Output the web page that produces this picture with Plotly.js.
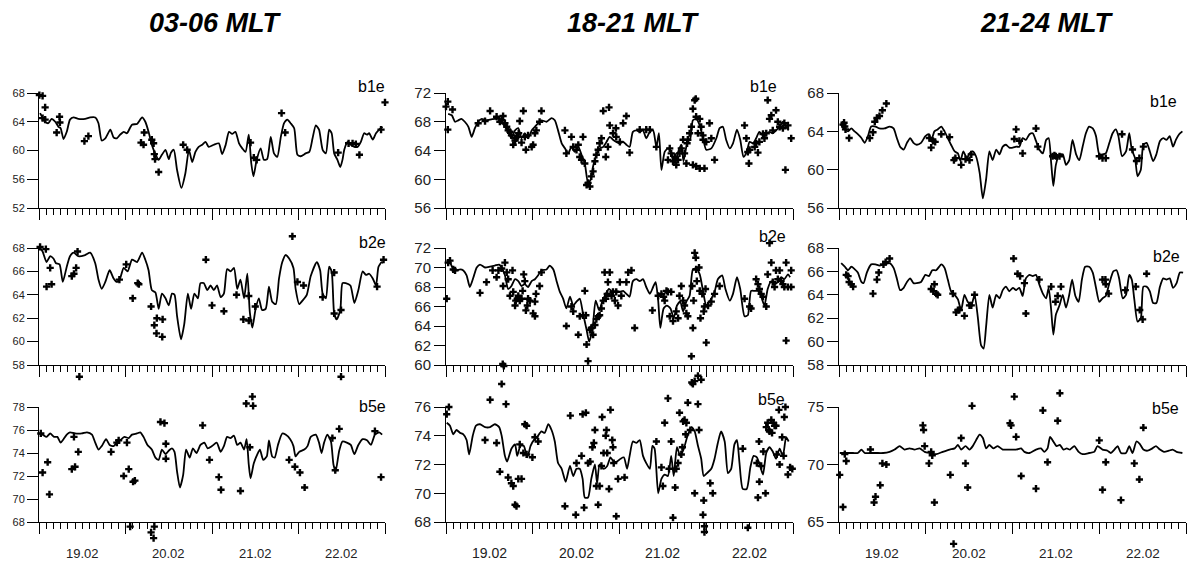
<!DOCTYPE html>
<html><head><meta charset="utf-8">
<script src="https://cdn.plot.ly/plotly-3.0.1.min.js"></script>
<style>html,body{margin:0;padding:0;background:#fff}#chart{width:1188px;height:564px}</style>
</head><body><div id="chart"></div>
<script>
// ---------- titles / labels ----------
const columnTitles = ['03-06 MLT', '18-21 MLT', '21-24 MLT'];
const rowLabels = ['b1e', 'b2e', 'b5e'];
const dayLabels = ['19.02', '20.02', '21.02', '22.02'];
const dayLabelHours = [12, 36, 60, 84];

// ---------- 03-06 MLT ----------
const c1r1LineH = [0.3,1.7,2.6,3.5,4.5,5.4,6.0,6.8,7.7,8.6,9.6,10.9,12.8,14.2,15.6,16.5,17.4,18.4,19.8,20.7,21.6,22.5,23.5,24.4,25.8,27.2,28.6,29.5,30.4,31.3,32.3,33.2,34.1,35.1,36.0,36.6,37.4,38.3,39.5,40.6,41.6,42.5,43.4,44.3,45.3,46.2,47.1,48.5,49.9,50.8,51.8,52.7,53.6,54.5,55.5,56.4,57.3,58.2,58.9,59.5,60.4,61.5,62.4,63.3,64.3,65.2,66.1,67.1,68.0,68.9,69.8,70.8,71.7,72.6,74.0,75.0,75.9,76.8,77.7,78.7,79.6,80.5,81.2,81.9,82.8,83.6,84.2,84.7,85.6,86.5,87.5,88.4,89.3,90.2,91.0,91.6,92.6,93.5,94.4,95.3];
const c1r1LineV = [65.2,64.0,63.8,64.4,64.0,63.3,63.1,61.6,62.6,64.3,64.6,64.4,64.4,64.6,64.6,63.8,61.4,61.7,62.9,61.8,61.7,62.2,62.6,62.4,63.6,63.7,64.6,64.0,62.6,60.8,59.5,58.7,59.4,60.1,58.8,59.7,60.1,57.3,54.8,56.8,60.1,58.4,59.8,60.5,60.8,61.2,60.5,60.8,61.0,59.5,60.8,62.6,62.3,62.6,61.0,60.3,59.8,62.2,58.2,56.4,58.7,60.3,58.7,58.8,61.9,59.6,59.1,61.9,63.8,64.3,63.8,63.1,59.4,59.2,59.6,59.8,61.7,63.5,62.9,60.1,59.6,62.9,62.4,59.6,58.7,57.7,58.7,60.1,61.2,60.8,60.5,60.5,61.2,62.4,62.2,62.4,61.5,62.4,62.9,63.3];
const c1r1PtH = [0.1,1.0,1.7,1.0,1.7,5.7,5.8,4.9,12.6,13.7,28.3,29.0,29.2,31.3,31.8,32.0,32.2,33.2,40.0,41.1,58.7,59.6,60.4,67.3,68.3,83.0,85.9,87.0,87.9,88.9,94.9,96.0];
const c1r1PtV = [67.7,67.6,66.0,64.5,64.3,64.7,63.9,62.5,61.3,62.0,61.1,60.8,62.5,61.5,61.0,59.5,58.8,57.0,60.8,60.1,61.1,59.0,58.7,65.2,62.5,59.7,61.0,61.0,60.9,59.4,62.9,66.7];

const c1r2LineH = [0.1,1.0,2.1,3.1,4.0,4.7,5.7,6.6,7.7,8.6,9.6,10.9,12.8,14.2,15.6,16.5,17.4,18.4,19.6,20.7,21.6,22.5,23.5,24.6,25.8,27.2,28.6,29.5,30.4,31.3,32.3,33.2,34.1,35.1,36.0,36.9,37.6,38.3,39.4,40.3,41.3,42.2,43.1,44.1,44.8,45.7,46.7,47.6,48.5,49.4,50.4,51.3,52.2,53.2,54.1,55.0,55.9,56.9,57.8,58.5,59.2,60.1,61.0,61.9,62.9,63.8,64.7,65.7,66.6,67.5,68.4,69.4,70.6,71.2,72.2,73.1,74.3,75.4,77.1,78.0,78.7,79.6,80.5,81.2,81.9,82.6,83.6,84.2,85.1,86.4,87.5,88.6,89.8,90.7,91.6,92.6,93.5,94.2,95.1,95.5];
const c1r2LineV = [68.1,67.7,66.8,67.3,67.1,66.7,66.6,65.1,66.4,67.3,67.6,67.3,67.4,67.6,66.7,65.3,64.5,65.1,66.1,65.4,65.1,65.4,66.3,66.0,67.0,66.8,67.6,67.0,66.1,64.4,64.2,62.8,64.1,63.7,63.1,64.1,64.0,62.2,60.2,61.5,64.1,62.8,64.1,63.7,65.0,65.0,64.4,64.8,64.4,64.8,63.8,64.1,66.2,66.0,66.3,64.5,65.3,63.7,65.8,62.5,61.2,62.8,63.7,62.7,62.8,64.7,63.4,63.2,65.4,66.8,67.4,67.1,66.3,64.5,63.2,63.5,64.0,65.6,66.8,66.1,64.1,63.7,66.4,66.0,62.4,61.9,62.7,65.0,65.0,64.8,63.3,64.4,66.0,65.7,65.8,65.4,64.8,66.4,66.8,66.7];
const c1r2PtH = [0.3,1.9,3.1,2.1,3.5,9.1,9.7,10.3,10.7,11.2,22.3,24.2,26.0,27.4,27.7,31.1,32.0,32.7,32.6,34.3,34.2,46.3,48.0,51.3,54.8,56.7,58.2,58.2,60.0,70.3,71.7,73.4,78.7,81.9,81.9,83.8,83.8,93.8,95.6];
const c1r2PtV = [68.1,67.9,66.3,64.7,64.9,65.6,65.8,66.3,67.7,57.0,65.3,66.6,63.7,65.0,64.9,63.0,61.4,62.0,60.7,61.9,60.4,67.0,63.1,62.6,64.0,61.9,61.8,63.9,63.0,69.0,65.1,64.8,63.8,65.9,62.4,62.7,57.0,64.7,67.0];

const c1r3LineH = [0.1,1.0,2.1,3.1,4.2,5.1,6.0,6.8,7.7,8.6,10.0,11.9,13.3,14.7,15.6,16.5,17.4,18.6,19.6,20.7,21.6,22.5,23.7,24.9,25.8,27.2,28.1,29.0,30.1,31.3,32.3,33.2,34.1,35.1,36.0,36.9,37.6,38.3,39.1,40.0,40.8,41.8,42.7,43.7,44.8,45.9,46.8,48.0,49.3,50.4,51.3,52.2,53.1,54.1,55.0,55.9,56.9,57.6,58.2,58.7,59.6,60.6,61.3,62.2,63.2,63.8,64.7,65.4,66.3,67.5,68.4,69.7,70.6,71.2,72.2,73.6,74.5,75.4,76.8,77.7,78.4,79.1,80.0,81.0,81.7,82.3,83.3,84.2,85.4,86.5,87.5,88.6,89.8,91.0,92.1,93.2,94.4,95.2];
const c1r3LineV = [75.7,75.6,75.4,75.7,75.4,75.4,74.9,75.2,75.6,75.8,75.7,75.7,75.8,75.6,74.9,74.3,74.6,75.2,74.7,74.6,74.9,75.1,75.4,75.3,75.6,75.7,75.8,75.4,74.7,74.3,73.6,73.4,74.3,73.9,74.2,74.4,74.1,72.4,71.0,72.1,74.3,73.6,74.4,74.0,74.7,74.9,74.4,74.6,74.9,74.1,74.6,75.4,75.3,75.5,74.7,74.9,74.3,75.2,73.0,71.8,73.1,73.9,74.3,73.4,73.7,75.1,73.7,73.6,74.7,75.7,75.6,75.2,74.6,73.7,74.1,74.3,74.6,75.4,75.6,74.9,74.0,74.9,75.6,75.0,73.0,72.4,74.2,75.0,74.9,74.7,73.9,74.7,75.2,75.1,74.7,75.6,75.8,75.6];
const c1r3PtH = [0.5,1.0,2.4,2.9,9.1,10.0,9.7,10.9,20.0,21.6,22.1,23.5,24.4,24.9,25.3,26.1,26.6,31.1,31.8,32.0,33.7,34.8,35.2,35.2,45.4,47.3,49.9,50.5,55.9,57.5,59.2,59.4,58.5,69.4,71.0,72.4,73.7,81.4,83.3,82.2,93.2,94.9];
const c1r3PtV = [75.7,72.3,73.2,70.4,72.6,72.8,75.4,74.1,74.1,74.9,75.1,72.0,74.9,72.6,67.6,71.5,71.6,67.1,66.6,67.6,76.7,76.6,74.8,73.5,76.4,73.4,71.9,70.8,70.7,78.3,78.9,78.1,74.5,73.4,72.8,72.3,71.0,75.3,76.1,72.5,75.9,71.9];

// ---------- 18-21 MLT ----------
const c2r1LineH = [0.6,1.6,2.5,3.4,4.3,5.2,6.2,7.1,8.0,8.9,9.9,11.0,12.2,13.5,14.7,15.4,16.3,17.2,18.1,19.1,20.0,20.9,21.8,22.7,23.7,24.6,25.5,26.4,27.8,29.2,30.1,31.0,32.0,32.9,33.8,34.7,35.6,36.6,37.5,38.4,39.3,40.0,40.7,41.6,42.5,43.5,44.4,45.3,46.2,47.1,48.1,49.0,49.9,50.8,51.7,52.7,53.6,54.5,55.4,56.4,57.3,58.2,58.9,59.6,60.5,61.4,62.3,63.3,64.2,65.1,65.7,66.7,67.6,68.3,69.2,70.2,71.1,72.0,73.4,74.8,75.7,76.6,77.5,78.5,79.4,80.5,81.4,82.3,83.2,84.0,84.9,85.8,86.7,87.7,88.6,89.5,90.4,91.3,92.3,93.2,94.1,94.8];
const c2r1LineV = [69.1,68.9,68.0,68.2,68.4,68.0,67.3,65.9,67.1,68.0,68.4,68.2,68.3,68.4,68.5,68.0,67.3,66.6,65.7,66.8,67.1,65.7,66.4,65.7,66.8,67.3,67.8,68.2,68.0,68.5,68.2,66.8,65.0,64.3,63.6,64.5,63.8,64.5,63.4,62.2,59.5,59.9,61.8,63.4,64.3,64.5,65.2,65.9,65.5,65.2,65.0,65.2,64.8,64.5,66.6,66.8,66.6,66.8,65.7,66.6,66.8,64.5,66.4,61.3,63.8,64.3,63.8,62.2,63.8,64.8,62.5,65.0,65.7,68.2,68.4,67.5,65.7,64.1,64.3,65.7,67.1,67.3,65.5,64.3,65.0,66.9,65.5,63.1,63.8,65.2,65.0,65.7,66.6,66.1,66.4,66.6,66.4,66.8,67.3,68.0,67.3,66.8];
const c2r1PtH = [0.0,0.5,1.8,0.5,8.9,10.8,12.2,14.0,14.9,15.4,15.8,16.3,16.8,17.2,17.7,18.1,18.6,19.1,19.3,19.7,20.1,20.4,20.9,21.4,21.8,22.1,22.7,23.7,24.1,24.6,25.0,25.9,26.4,32.9,33.3,34.7,35.2,36.1,36.6,37.0,37.5,37.9,38.4,38.9,39.3,39.8,40.2,40.7,41.2,41.6,42.1,42.5,43.0,43.5,44.2,44.8,45.1,45.3,46.2,47.0,47.1,48.1,49.0,49.9,50.8,53.6,55.4,56.4,58.2,61.4,61.9,62.3,62.8,63.3,63.7,64.2,64.6,65.1,65.6,66.0,66.5,66.7,66.9,67.4,67.9,68.3,68.8,69.1,69.2,69.7,70.2,70.6,71.1,68.3,69.2,70.2,71.1,71.5,72.0,72.9,73.4,74.3,82.6,83.1,83.5,83.8,84.0,85.4,85.8,86.3,86.7,87.7,88.1,88.6,89.0,89.5,90.0,90.4,91.3,91.8,92.3,93.2,93.6,93.9,94.6,95.5];
const c2r1PtV = [70.1,70.8,69.7,66.9,67.8,68.1,69.5,68.7,68.0,68.2,68.8,67.8,67.3,66.8,66.6,66.1,64.8,65.4,65.7,65.9,66.4,68.1,65.1,69.5,65.9,64.1,66.1,64.5,64.8,66.4,66.8,68.0,69.5,66.8,63.6,65.9,64.5,64.1,64.8,63.1,62.7,65.9,62.2,59.2,59.5,59.0,60.4,61.1,62.5,63.4,64.1,65.0,65.7,69.5,63.1,64.5,70.0,67.5,66.4,67.1,65.9,65.2,67.8,68.8,63.7,66.9,66.9,66.9,64.5,62.7,64.3,63.6,62.5,63.1,62.0,62.7,63.6,64.3,65.5,63.6,62.2,65.0,65.5,66.4,67.3,69.8,71.0,71.2,68.7,66.4,68.4,67.3,66.1,62.0,61.8,61.5,65.5,61.5,65.2,67.8,65.7,62.7,67.5,65.7,63.8,62.2,64.1,64.5,65.0,63.7,65.2,66.3,65.7,66.4,71.0,68.4,68.9,66.8,69.6,68.0,67.3,67.1,67.8,61.3,67.5,65.7];

const c2r2LineH = [0.2,1.1,2.0,2.9,3.9,4.8,5.7,6.6,7.6,8.5,9.4,10.8,12.2,13.5,14.7,15.4,16.3,17.2,18.1,19.1,20.0,20.9,21.8,22.7,23.7,24.6,25.5,26.4,27.8,28.7,29.7,30.6,31.5,32.4,33.3,34.3,35.2,36.1,37.0,37.9,38.9,39.6,40.5,41.4,42.4,43.3,44.2,45.1,46.0,47.0,48.1,49.0,49.9,50.8,51.7,52.7,53.6,54.5,55.4,56.4,57.3,58.0,58.7,59.3,60.2,61.1,62.1,63.0,63.9,64.8,65.6,66.5,67.4,68.3,69.2,70.2,71.1,72.0,72.9,74.3,75.2,76.4,77.3,78.5,79.4,80.5,81.4,82.6,83.5,84.4,85.4,86.3,87.2,88.1,89.0,90.0,90.9,91.8,92.7,93.6,94.6,95.2];
const c2r2LineV = [70.5,70.5,69.8,69.7,69.8,69.7,69.2,68.0,69.0,70.0,70.3,70.0,70.1,70.2,70.3,70.0,69.2,67.8,68.1,68.8,68.6,68.1,68.3,68.0,68.6,68.8,69.2,69.7,69.8,70.2,69.8,68.6,67.5,66.8,65.8,67.0,66.1,66.5,66.8,65.3,63.6,62.4,63.6,66.6,65.6,66.6,67.3,67.8,67.5,67.6,67.5,67.6,67.3,67.0,68.6,68.8,68.6,68.8,68.0,67.3,68.0,68.5,66.6,63.8,65.8,66.1,65.8,64.8,66.1,66.5,65.5,66.5,67.1,69.8,69.9,69.3,67.6,66.1,66.5,67.5,68.8,69.2,67.8,66.6,67.3,69.0,67.8,65.0,65.1,67.6,67.6,67.6,67.0,66.1,67.8,68.6,68.3,68.5,69.0,68.8,69.3,69.0];
const c2r2PtH = [0.2,0.6,1.1,2.0,2.5,9.4,11.2,12.9,14.0,14.5,15.4,15.8,16.3,16.8,15.7,16.0,17.2,17.7,18.4,18.6,19.1,19.3,19.7,20.0,20.4,20.9,21.2,21.5,21.8,22.1,22.5,22.7,23.2,24.1,24.6,24.6,24.9,25.9,26.4,33.3,34.7,35.2,36.6,37.0,37.9,38.4,38.7,38.9,39.3,39.8,40.2,40.7,41.2,41.6,42.1,42.5,43.0,43.5,43.9,44.2,44.6,44.8,45.3,45.8,46.2,46.7,47.1,47.6,48.1,48.5,49.9,50.4,51.3,52.2,57.1,58.7,59.6,60.2,60.5,61.0,61.4,61.9,62.3,62.8,63.7,64.2,64.6,65.1,65.6,66.0,66.5,66.9,67.9,68.1,68.3,68.5,68.8,69.1,69.2,69.4,69.7,70.0,70.2,70.4,70.9,71.3,71.5,71.8,72.0,72.5,73.4,74.3,75.7,82.6,84.0,84.4,85.8,86.3,86.7,87.2,87.7,88.6,89.0,89.5,90.0,90.4,90.9,91.3,91.8,92.3,92.7,93.2,93.6,94.1,94.1,94.6,95.5,95.5];
const c2r2PtV = [66.8,70.5,70.7,69.8,69.7,67.4,68.5,69.7,69.0,69.7,69.9,68.1,70.5,69.5,60.1,59.9,68.8,67.1,69.7,67.5,66.1,66.6,66.8,67.1,66.6,66.8,67.6,69.3,68.6,65.6,66.1,66.8,66.6,65.3,65.0,66.5,67.3,68.1,69.5,64.0,66.0,65.5,63.1,65.0,65.1,67.6,65.1,62.1,60.4,63.6,63.8,63.1,64.1,64.7,65.0,65.1,65.8,66.6,69.5,66.8,67.3,68.5,69.5,67.1,67.5,66.6,67.5,66.1,68.5,67.1,68.5,69.5,69.7,63.8,65.6,67.1,67.3,67.0,66.6,67.6,67.5,65.0,67.5,64.5,65.5,64.8,67.1,68.1,66.6,66.1,65.3,65.0,60.9,68.1,63.8,66.6,71.5,71.0,69.8,68.6,58.9,70.0,67.6,64.8,67.3,65.5,66.0,67.8,62.3,66.1,66.5,67.3,68.1,66.8,66.0,65.8,68.8,68.3,67.8,67.3,67.0,66.0,69.3,72.5,70.5,68.5,68.0,69.7,68.8,69.7,68.6,68.3,68.0,70.5,62.5,68.0,69.7,68.0];

const c2r3LineH = [0.2,1.1,2.0,2.9,3.9,4.8,5.7,6.4,7.4,8.3,9.4,10.8,12.2,13.5,14.7,15.4,16.3,16.9,18.1,19.1,19.7,20.6,21.5,22.5,23.4,24.3,25.2,26.4,27.3,28.3,29.2,30.1,31.0,32.0,33.1,34.3,35.2,36.1,37.0,37.8,38.4,39.3,40.2,41.2,41.8,42.5,43.6,44.6,45.5,46.4,47.3,48.3,49.2,50.1,50.8,51.7,52.7,53.6,54.5,55.4,56.4,57.1,57.7,58.7,59.6,60.5,61.4,62.3,63.0,63.9,64.8,65.8,66.7,67.9,68.8,69.7,70.6,71.3,72.2,73.4,74.3,75.2,76.1,77.1,78.0,78.9,79.8,80.5,81.2,82.1,83.2,84.2,85.1,86.0,86.9,87.7,88.6,89.5,90.4,91.3,92.3,93.2,94.1,94.8];
const c2r3LineV = [74.9,74.7,74.1,74.4,74.2,74.1,73.7,72.7,74.0,74.7,74.8,74.6,74.6,74.8,74.6,74.0,72.6,72.2,73.1,73.4,72.6,73.3,73.3,72.5,73.3,73.7,73.9,74.3,74.2,74.8,74.4,73.6,72.1,71.7,70.8,71.9,71.2,71.7,71.7,71.0,69.7,69.7,71.0,72.0,70.7,72.0,71.7,71.9,72.5,72.2,72.2,72.4,72.5,71.7,72.6,73.6,73.5,73.7,72.6,72.1,71.7,73.3,73.1,70.0,71.0,71.3,71.2,72.6,71.2,73.2,72.6,73.1,73.9,74.6,74.3,73.3,72.4,71.2,71.4,71.7,72.4,73.5,74.3,73.6,71.4,71.7,73.4,73.7,72.1,70.3,70.3,71.8,72.6,72.5,71.9,71.3,72.8,73.2,72.9,72.4,73.1,72.6,73.9,73.6];
const c2r3PtH = [0.2,0.8,10.8,12.2,14.0,14.9,15.4,16.6,17.2,18.1,18.6,19.1,19.5,20.0,20.4,20.9,21.4,21.8,22.3,22.3,23.9,24.6,25.5,32.9,34.4,35.9,36.1,37.5,37.8,38.2,38.7,39.3,39.9,40.5,40.9,41.2,41.6,42.1,42.5,43.0,43.2,43.6,44.2,44.4,44.6,45.1,45.5,46.0,46.2,46.4,47.1,47.6,49.4,58.2,59.6,60.0,60.5,61.4,61.7,62.3,62.8,63.4,63.7,64.2,64.6,65.1,65.4,65.6,66.0,66.3,66.5,66.9,67.6,68.0,68.3,68.8,68.8,69.7,70.0,70.6,71.1,71.3,71.5,71.5,73.1,73.8,82.1,83.5,86.0,86.3,86.6,86.7,87.2,87.8,88.4,88.6,89.0,89.3,89.5,90.0,90.2,90.6,90.9,91.3,91.5,92.1,92.3,93.0,93.4,93.6,93.9,94.6,95.2,95.8];
const c2r3PtV = [75.5,76.0,73.7,76.5,73.5,71.5,77.6,76.2,71.1,70.7,70.5,69.2,69.1,71.0,73.4,71.0,72.8,74.8,74.7,72.7,72.5,73.9,73.6,69.1,75.4,68.5,72.1,72.6,75.5,69.0,75.6,72.1,72.2,73.2,73.5,74.4,70.5,69.2,70.5,71.9,75.3,72.8,74.0,74.4,72.8,70.3,75.8,73.7,73.2,72.1,68.4,71.0,71.1,73.6,71.8,70.5,74.9,76.6,71.7,73.6,68.3,70.4,71.7,72.1,75.6,72.7,73.2,75.0,75.1,74.1,74.9,76.3,74.4,77.7,77.6,77.8,70.0,76.2,74.4,77.9,68.5,69.5,67.7,67.3,70.7,70.0,73.1,67.6,72.1,69.7,73.6,70.8,71.9,72.9,70.0,74.6,74.9,74.4,74.3,75.1,74.2,74.9,74.7,74.7,72.7,75.8,72.0,73.9,72.6,75.3,76.0,71.3,71.8,71.7];

// ---------- 21-24 MLT ----------
const c3r1LineH = [0.6,1.6,2.5,3.4,4.3,5.2,6.2,7.1,8.0,8.9,10.1,11.2,12.6,14.0,15.1,16.0,16.9,17.9,18.8,19.7,20.6,21.5,22.7,23.9,24.9,25.5,26.4,27.3,28.3,29.2,30.1,31.0,32.0,32.9,33.6,34.4,35.4,36.1,37.0,37.9,38.9,39.8,40.7,41.6,42.5,43.5,44.4,45.3,46.2,47.1,48.1,49.0,49.9,50.8,51.7,52.7,53.6,54.5,55.4,56.4,57.3,58.0,58.7,59.3,60.0,61.0,61.9,62.8,63.7,64.6,65.6,66.5,67.4,68.3,69.2,70.2,71.1,72.0,72.9,73.8,74.8,75.7,76.6,77.3,78.3,79.4,80.3,81.0,81.9,82.6,83.5,84.2,85.1,86.0,86.9,87.8,88.8,89.7,90.6,91.5,92.4,93.2,94.1,95.0];
const c3r1LineV = [64.7,64.2,64.0,64.3,64.0,63.7,63.3,62.8,63.5,64.5,64.5,64.3,64.3,64.5,64.3,63.3,62.4,62.1,62.8,63.3,62.8,62.6,62.8,63.5,63.7,63.0,64.0,64.2,64.5,64.0,63.3,62.6,61.9,61.7,60.9,61.9,61.2,61.7,61.9,61.4,59.7,57.0,59.0,61.9,61.0,62.1,61.6,62.4,62.6,62.3,62.3,62.4,62.4,63.3,63.1,63.7,63.8,63.0,62.1,61.7,63.1,63.3,60.7,58.3,60.5,61.6,61.6,60.5,61.0,63.1,61.6,61.0,62.4,63.8,64.5,64.3,63.5,61.6,61.6,61.7,62.8,63.8,64.2,63.5,61.4,61.9,63.8,62.1,61.2,59.3,60.0,62.6,62.8,61.9,60.9,61.6,63.0,63.3,63.1,63.5,62.4,63.1,63.7,64.0];
const c3r1PtH = [1.1,1.4,1.6,1.8,2.8,8.5,9.4,9.9,10.5,11.2,12.0,13.1,25.0,25.5,26.0,26.6,28.3,30.6,31.8,32.2,33.8,35.0,36.1,36.6,48.5,49.0,49.9,50.8,54.5,55.0,59.1,59.6,60.0,61.0,72.0,72.9,73.8,78.3,81.2,82.3,83.1,84.2];
const c3r1PtV = [64.7,64.9,64.5,64.2,63.3,63.3,63.9,65.0,65.4,65.6,66.2,66.9,63.3,62.3,63.0,62.9,63.7,63.4,61.0,61.2,60.5,61.1,61.0,61.6,63.2,64.2,63.0,61.7,64.3,62.4,61.4,61.5,61.4,61.4,61.4,61.2,61.2,63.7,62.1,60.9,61.2,62.4];

const c3r2LineH = [0.6,1.6,2.5,3.4,4.3,5.2,6.2,6.8,7.7,8.9,10.1,11.2,12.6,14.0,15.1,16.0,16.9,17.9,18.8,19.7,20.6,21.5,22.7,23.9,24.9,25.8,26.9,28.3,29.2,30.1,31.0,32.0,32.9,33.8,34.7,35.6,36.6,37.5,38.4,39.3,40.0,40.7,41.6,42.5,43.5,44.4,45.3,46.2,47.1,48.1,49.0,49.9,50.8,51.7,52.7,53.6,54.5,55.4,56.4,57.3,58.0,58.7,59.3,60.0,61.0,61.9,62.8,63.7,64.5,65.4,66.3,67.2,68.1,69.2,70.2,71.1,72.0,72.9,73.8,74.8,75.9,76.8,77.5,78.5,79.4,80.3,81.0,81.7,82.6,83.5,84.2,85.1,86.0,86.9,87.8,88.8,89.7,90.6,91.5,92.4,93.4,94.3,95.2];
const c3r2LineV = [66.7,66.4,66.1,66.4,66.2,65.9,65.1,65.0,65.9,66.6,66.6,66.5,66.6,66.7,66.3,65.4,64.4,64.6,65.1,65.4,65.0,65.0,65.1,65.7,65.6,66.1,66.1,66.6,66.3,65.3,64.3,64.0,63.6,62.7,64.0,63.4,63.1,64.0,62.1,59.7,59.4,61.3,64.0,62.9,64.0,63.7,64.4,64.7,64.3,64.6,64.4,64.6,63.9,65.4,65.7,65.6,65.7,64.9,64.1,63.7,64.6,62.7,60.6,62.3,63.1,64.0,62.9,64.0,65.3,63.9,63.4,65.3,66.4,66.4,65.9,64.6,63.4,63.7,63.9,65.0,66.0,66.1,65.4,63.7,64.0,65.7,65.3,63.6,61.7,62.0,64.7,64.7,64.3,63.3,63.3,64.7,65.4,65.3,65.4,64.6,65.0,65.9,65.9];
const c3r2PtH = [2.0,2.5,2.8,3.4,3.9,9.4,10.5,11.0,12.3,12.9,14.0,25.5,26.1,26.4,26.9,27.3,31.5,32.4,32.9,33.3,34.7,36.1,36.6,37.5,48.3,49.4,50.1,51.3,51.7,55.4,58.7,59.9,60.5,61.4,72.9,73.7,73.8,74.6,79.2,82.1,83.2,84.0,85.1];
const c3r2PtV = [65.7,65.6,65.1,64.9,64.7,64.1,65.3,65.9,66.6,66.8,67.1,64.5,64.3,64.9,64.1,64.0,64.1,62.5,62.7,62.7,62.2,63.1,63.1,64.0,67.1,65.8,65.6,65.0,62.4,65.3,64.7,63.4,63.9,64.7,65.3,65.3,64.9,64.1,64.4,64.7,62.7,61.9,65.8];

const c3r3LineH = [0.2,2.0,3.9,5.2,6.2,7.1,8.5,10.3,12.2,14.0,15.4,16.8,18.1,19.5,20.9,22.3,23.7,25.0,26.9,28.7,30.6,32.0,32.9,33.8,35.0,36.1,37.0,37.9,38.9,39.8,40.7,41.6,42.7,43.9,45.3,47.1,49.0,50.4,51.3,52.7,54.5,55.9,56.8,57.7,58.4,59.3,60.2,61.1,62.1,63.0,63.9,65.1,66.3,67.4,69.2,70.6,71.5,72.9,74.3,75.2,76.2,77.1,78.0,79.4,80.3,81.2,82.3,83.2,84.2,85.4,86.7,87.7,88.8,89.9,91.3,92.3,93.4,95.0];
const c3r3LineV = [71.0,71.0,71.0,71.0,71.3,71.0,71.0,71.0,71.0,71.1,71.3,71.6,71.3,71.4,71.3,71.4,71.1,71.0,70.9,71.1,71.3,71.4,71.7,71.3,71.6,71.3,71.6,72.1,72.6,72.3,71.4,71.7,71.4,71.6,71.3,71.3,71.3,71.4,71.1,71.0,71.3,71.4,71.1,71.4,72.4,72.0,71.6,71.7,71.3,71.4,71.3,71.6,71.1,70.9,71.0,71.1,71.6,71.3,71.2,71.0,71.3,71.6,71.0,71.0,71.6,71.0,72.0,71.8,71.3,71.2,71.4,71.6,71.3,71.1,71.2,71.3,71.1,71.0];
const c3r3PtH = [0.2,1.1,1.6,2.0,8.7,9.7,10.1,11.4,12.0,13.1,23.2,23.4,23.7,24.9,25.5,25.8,26.4,30.8,31.7,33.8,35.0,35.6,36.8,47.3,47.6,48.5,49.0,50.4,54.5,56.4,57.7,60.5,61.1,72.0,73.8,72.9,78.0,81.7,83.1,84.2];
const c3r3PtV = [69.1,66.3,70.9,70.3,71.3,66.7,67.2,68.2,70.1,70.0,73.4,73.0,71.6,70.1,71.1,70.8,66.7,69.1,63.1,72.3,70.1,68.0,75.1,73.6,73.4,75.9,72.4,69.0,67.9,74.7,70.2,73.8,76.2,72.1,70.2,67.8,66.9,70.1,68.7,73.2];

// ---------- axis ranges (per column, per row) ----------
const xRange = [0, 96];
const yRanges = [
  [[52,68],[58,68],[68,78]],
  [[56,72],[60,72],[68,76]],
  [[56,68],[58,68],[65,75]]
];
const yDticks = [[4,2,2],[4,2,2],[4,2,5]];

const series = [
  [[c1r1LineH,c1r1LineV,c1r1PtH,c1r1PtV],[c1r2LineH,c1r2LineV,c1r2PtH,c1r2PtV],[c1r3LineH,c1r3LineV,c1r3PtH,c1r3PtV]],
  [[c2r1LineH,c2r1LineV,c2r1PtH,c2r1PtV],[c2r2LineH,c2r2LineV,c2r2PtH,c2r2PtV],[c2r3LineH,c2r3LineV,c2r3PtH,c2r3PtV]],
  [[c3r1LineH,c3r1LineV,c3r1PtH,c3r1PtV],[c3r2LineH,c3r2LineV,c3r2PtH,c3r2PtV],[c3r3LineH,c3r3LineV,c3r3PtH,c3r3PtV]]
];

// ---------- layout geometry (pixels) ----------
const W = 1188, H = 564;
const colX = [[39,385],[446,793],[839,1186]];
const rowY = [[93,208],[248,365],[407,522]];
const yFont = [11,15,15];
const dayFont = [13,14,13.5];
const FONT = 'Liberation Sans, Arial, Helvetica, sans-serif';
const PAD_X = 12, PAD_Y = 40; // extra room so scattered points may spill past the axes

const traces = [];
const layout = {
  width: W, height: H, margin: {l:0,r:0,t:0,b:0},
  paper_bgcolor: '#fff', plot_bgcolor: 'rgba(0,0,0,0)',
  showlegend: false, font: {family: FONT, color: '#000'},
  annotations: []
};

for (let c = 0; c < 3; c++) {
  for (let r = 0; r < 3; r++) {
    const idx = r*3 + c + 1;
    const xa = idx === 1 ? 'x' : 'x' + idx;
    const ya = idx === 1 ? 'y' : 'y' + idx;
    const xb = 'x' + (10 + idx), yb = 'y' + (10 + idx);   // hidden, widened axes for the points
    const [lh, lv, ph, pv] = series[c][r];
    const yr = yRanges[c][r];

    traces.push({x: lh, y: lv, xaxis: xa, yaxis: ya, type: 'scatter', mode: 'lines',
      line: {color: '#000', width: 1.8, shape: 'spline', smoothing: 0.6}, hoverinfo: 'skip'});
    traces.push({x: ph, y: pv, xaxis: xb, yaxis: yb, type: 'scatter', mode: 'markers',
      marker: {symbol: 'cross', size: 6, color: '#000', line: {width: 0}}, hoverinfo: 'skip'});

    const xk = idx === 1 ? 'xaxis' : 'xaxis' + idx;
    const yk = idx === 1 ? 'yaxis' : 'yaxis' + idx;
    layout[xk] = {
      domain: [colX[c][0]/W, colX[c][1]/W], anchor: ya, range: xRange,
      showgrid: false, zeroline: false, showline: true, linecolor: '#000', linewidth: 1,
      tickmode: 'linear', tick0: 0, dtick: 24, ticks: 'outside', ticklen: 11, tickwidth: 1, tickcolor: '#000',
      showticklabels: false,
      minor: {tick0: 0, dtick: 2, ticks: 'outside', ticklen: 6, tickwidth: 1, tickcolor: '#000', showgrid: false}
    };
    layout[yk] = {
      domain: [1 - rowY[r][1]/H, 1 - rowY[r][0]/H], anchor: xa, range: yr,
      showgrid: false, zeroline: false, showline: true, linecolor: '#000', linewidth: 1,
      tickmode: 'linear', tick0: yr[0], dtick: yDticks[c][r],
      ticks: 'outside', ticklen: 11, tickwidth: 1, tickcolor: '#000',
      tickfont: {family: FONT, size: yFont[c], color: '#222'}
    };

    // hidden axes with the same scale but a widened domain
    const pxPerH = (colX[c][1] - colX[c][0]) / (xRange[1] - xRange[0]);
    const l2 = Math.max(0, colX[c][0] - PAD_X), r2 = Math.min(W, colX[c][1] + PAD_X);
    const pxPerV = (rowY[r][1] - rowY[r][0]) / (yr[1] - yr[0]);
    const t2 = Math.max(0, rowY[r][0] - PAD_Y), b2 = Math.min(H, rowY[r][1] + PAD_Y);
    layout['xaxis' + (10 + idx)] = {
      visible: false, domain: [l2/W, r2/W], anchor: yb,
      range: [xRange[0] - (colX[c][0] - l2)/pxPerH, xRange[1] + (r2 - colX[c][1])/pxPerH]
    };
    layout['yaxis' + (10 + idx)] = {
      visible: false, domain: [1 - b2/H, 1 - t2/H], anchor: xb,
      range: [yr[0] - (b2 - rowY[r][1])/pxPerV, yr[1] + (rowY[r][0] - t2)/pxPerV]
    };
  }
}

// column titles
const titleX = [215, 633, 1047];
columnTitles.forEach((t, c) => layout.annotations.push({
  text: '<b><i>' + t + '</i></b>', xref: 'paper', yref: 'paper', x: titleX[c]/W, y: 1 - 23/H,
  xanchor: 'center', yanchor: 'middle', showarrow: false,
  font: {family: FONT, size: 27, color: '#000'}
}));

// panel labels
const labelPos = [
  [[387,86],[388,242],[388,406]],
  [[779,86],[788,236],[787,399]],
  [[1179,101],[1182,256],[1181,408]]
];
for (let c = 0; c < 3; c++) for (let r = 0; r < 3; r++) {
  layout.annotations.push({
    text: rowLabels[r], xref: 'paper', yref: 'paper',
    x: labelPos[c][r][0]/W, y: 1 - labelPos[c][r][1]/H, xanchor: 'right', yanchor: 'middle',
    showarrow: false, font: {family: FONT, size: 16, color: '#000'}
  });
}

// day labels under bottom row
for (let c = 0; c < 3; c++) {
  const xa = 'x' + (6 + c + 1);
  dayLabels.forEach((d, i) => layout.annotations.push({
    text: d, xref: xa, yref: 'paper', x: dayLabelHours[i], y: 1 - 553/H,
    xanchor: 'center', yanchor: 'middle', showarrow: false,
    font: {family: FONT, size: dayFont[c], color: '#222'}
  }));
}

Plotly.newPlot('chart', traces, layout, {displayModeBar: false, staticPlot: true});
</script>
</body></html>
